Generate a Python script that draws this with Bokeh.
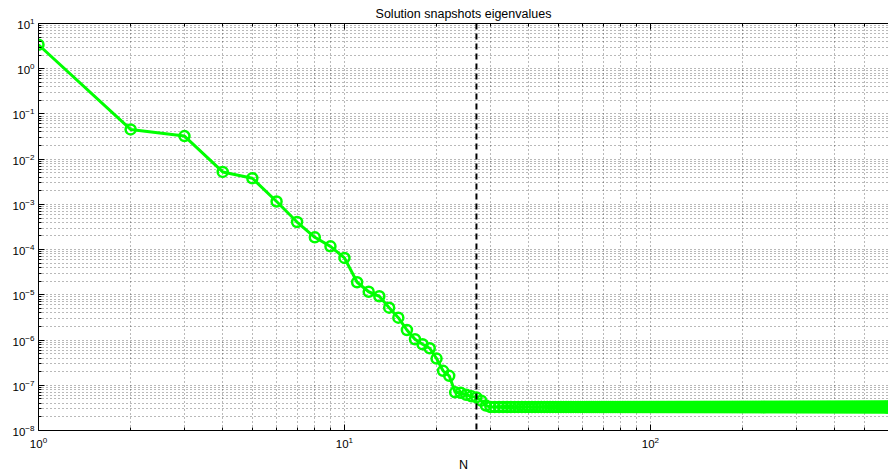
from bokeh.plotting import figure
from bokeh.models import (FixedTicker, LogAxis, LogTickFormatter, Span, Range1d)
from bokeh.embed import file_html
from bokeh.resources import INLINE

# Eigenvalues of the solution snapshot correlation matrix, by index N
head_n = list(range(1, 30))
head_vals = [
    3.39, 0.0455, 0.0324, 0.00522, 0.00379, 0.00116, 4.07e-4, 1.87e-4,
    1.18e-4, 6.56e-5, 1.9e-5, 1.17e-5, 9.3e-6, 5.2e-6, 3.13e-6, 1.67e-6,
    1.04e-6, 8.07e-7, 6.6e-7, 3.9e-7, 2.09e-7, 1.62e-7, 6.97e-8, 6.8e-8,
    6.18e-8, 5.69e-8, 5.4e-8, 4.56e-8, 3.55e-8,
]
# remaining eigenvalues sit on a numerical floor
tail_n = list(range(30, 601))
tail_vals = [3.3e-8] * len(tail_n)

n_values = head_n + tail_n
eigenvalues = head_vals + tail_vals

cutoff_n = 27
chart_title = "Solution snapshots eigenvalues"

x_major = [1, 10, 100]
x_minor = [m * d for d in (1, 10, 100) for m in range(2, 10) if m * d <= 600]
y_major = [10.0 ** k for k in range(-8, 2)]
y_minor = [m * 10.0 ** k for k in range(-8, 1) for m in range(2, 10)]

FONT = "Liberation Sans"

p = figure(
    width=888, height=474,
    x_axis_type="log", y_axis_type="log",
    x_range=Range1d(1, 600), y_range=Range1d(1e-8, 10),
    output_backend="svg", toolbar_location=None,
    min_border_left=38, min_border_right=0, min_border_top=23,
    min_border_bottom=42,
)
p.outline_line_color = None
p.background_fill_color = "white"
p.border_fill_color = "white"

xt = FixedTicker(ticks=x_major, minor_ticks=x_minor)
yt = FixedTicker(ticks=y_major, minor_ticks=y_minor)

for ax, tk in ((p.xaxis[0], xt), (p.yaxis[0], yt)):
    ax.ticker = tk
    ax.formatter = LogTickFormatter()
    ax.major_tick_in = 6
    ax.major_tick_out = 0
    ax.minor_tick_in = 3
    ax.minor_tick_out = 0
    ax.axis_line_color = "black"
    ax.major_tick_line_color = "black"
    ax.minor_tick_line_color = "black"
    ax.major_label_text_font = FONT
    ax.major_label_text_font_size = "11.5px"
    ax.major_label_text_color = "black"
    ax.axis_label_text_font = FONT
    ax.axis_label_text_font_size = "12.5px"
    ax.axis_label_text_font_style = "normal"
    ax.axis_label_text_color = "black"

p.xaxis.axis_label = "N"
p.xaxis.major_label_standoff = 6
p.xaxis.axis_label_standoff = 7
p.yaxis.major_label_standoff = 4

# box edge along the top with ticks; its axis label carries the chart title
top = LogAxis(ticker=FixedTicker(ticks=x_major, minor_ticks=x_minor),
              formatter=LogTickFormatter(),
              major_tick_in=6, major_tick_out=0, minor_tick_in=3,
              minor_tick_out=0, major_label_text_font_size="1px",
              major_label_text_alpha=0, major_label_standoff=0,
              axis_line_color="black",
              axis_label=chart_title, axis_label_text_font=FONT,
              axis_label_text_font_size="12.5px",
              axis_label_text_font_style="normal",
              axis_label_text_color="black", axis_label_standoff=3)
p.add_layout(top, "above")

for g, tk in ((p.xgrid[0], xt), (p.ygrid[0], yt)):
    g.ticker = tk
    g.grid_line_color = "black"
    g.grid_line_alpha = 0.55
    g.grid_line_dash = "1 3"
    g.minor_grid_line_color = "black"
    g.minor_grid_line_alpha = 0.55
    g.minor_grid_line_dash = "1 3"

p.line(n_values, eigenvalues, line_color="#00ff00", line_width=3)
p.scatter(n_values, eigenvalues, marker="circle", size=10,
          fill_color=None, line_color="#00ff00", line_width=2.5)

p.add_layout(Span(location=cutoff_n, dimension="height", line_color="black",
                  line_width=2, line_dash="6 4"))

open("out.html", "w").write(file_html(p, INLINE))
